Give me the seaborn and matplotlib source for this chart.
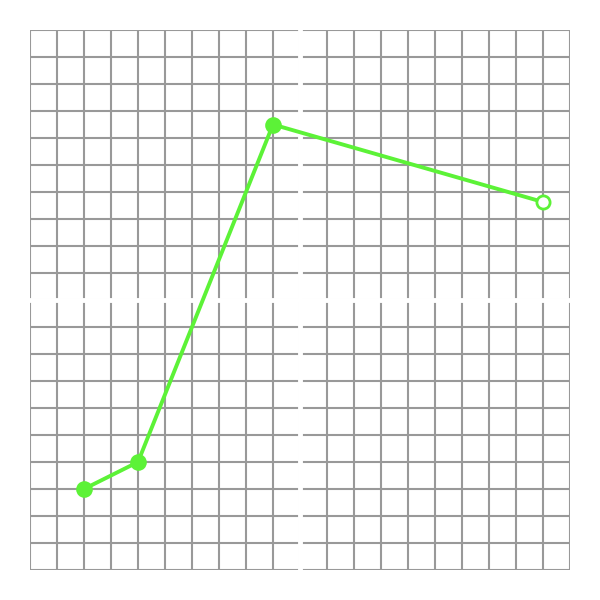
import pandas as pd
import numpy as np
import matplotlib
matplotlib.use('Agg')
import matplotlib.pyplot as plt
import seaborn as sns

x_vals = [-8, -6, -1, 9]
y_vals = [-7, -6, 6.5, 3.63]
filled = [True, True, True, False]

df = pd.DataFrame({'x': x_vals, 'y': y_vals, 'filled': filled})

sns.set_style('white')
fig = plt.figure(figsize=(6, 6), dpi=100)
ax = fig.add_axes([0.05, 0.05, 0.9, 0.9])

green = '#5cf237'
grid_color = '#999999'

# grid every unit
for v in range(-10, 11):
    ax.axvline(v, color=grid_color, lw=1.5, zorder=1)
    ax.axhline(v, color=grid_color, lw=1.5, zorder=1)
# white axis lines through the origin
ax.axvline(0, color='white', lw=3.5, zorder=2)
ax.axhline(0, color='white', lw=3.5, zorder=2)

sns.lineplot(data=df, x='x', y='y', sort=False, color=green, lw=2.8, ax=ax, zorder=3)
sns.scatterplot(data=df[df['filled']], x='x', y='y', color=green, s=110,
                edgecolor=green, linewidth=1.5, ax=ax, zorder=4)
sns.scatterplot(data=df[~df['filled']], x='x', y='y', color='white', s=90,
                edgecolor=green, linewidth=2, ax=ax, zorder=4)

ax.set_xlim(-10, 10)
ax.set_ylim(-10, 10)
ax.set_xticks([])
ax.set_yticks([])
ax.set_xlabel('')
ax.set_ylabel('')
for s in ax.spines.values():
    s.set_visible(False)

fig.savefig('out.png', dpi=100)
